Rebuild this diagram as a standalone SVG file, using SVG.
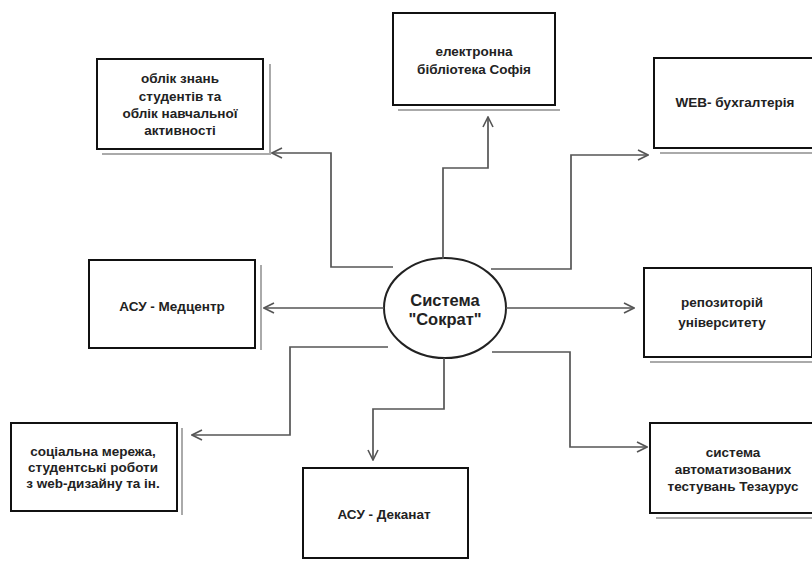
<svg xmlns="http://www.w3.org/2000/svg" width="812" height="563" viewBox="0 0 812 563">
<style>
.box{fill:#fff;stroke:#111;stroke-width:2}
.sh{fill:none;stroke:#aaa;stroke-width:2}
.t{font-family:"Liberation Sans",Arial,sans-serif;font-weight:bold;font-size:13.5px;fill:#222;text-anchor:middle}
.c{fill:none;stroke:#555;stroke-width:1.7}
.big{font-size:16.5px}
</style>
<defs>
<marker id="ar" viewBox="0 0 12 12" refX="11" refY="6" markerWidth="12" markerHeight="12" markerUnits="userSpaceOnUse" orient="auto">
<path d="M1,1 L11,6 L1,11" fill="none" stroke="#555" stroke-width="1.6"/>
</marker>
</defs>
<rect width="812" height="563" fill="#fff"/>
<g id="n-oblik">
<path class="sh" d="M270,64 V154 H102"/>
<rect class="box" x="97" y="59" width="166" height="90"/>
<text class="t" x="180" y="83">облік знань</text>
<text class="t" x="180" y="101">студентів та</text>
<text class="t" x="180" y="118">облік навчальної</text>
<text class="t" x="180" y="135">активності</text>
</g>
<g id="n-biblioteka">
<path class="sh" d="M398,110 H560"/>
<rect class="box" x="393" y="13" width="162" height="92"/>
<text class="t" x="474" y="56">електронна</text>
<text class="t" x="474" y="74">бібліотека Софія</text>
</g>
<g id="n-web">
<path class="sh" d="M660,153 H812"/>
<rect class="box" x="654" y="58" width="160" height="90"/>
<text class="t" x="735" y="107">WEB- бухгалтерія</text>
</g>
<g id="n-medcentr">
<path class="sh" d="M261,265 V350"/>
<rect class="box" x="89" y="260" width="166" height="88"/>
<text class="t" x="172" y="311">АСУ - Медцентр</text>
</g>
<g id="n-sokrat">
<ellipse cx="445" cy="308" rx="61" ry="50" fill="#fff" stroke="#222" stroke-width="2"/>
<text class="t big" x="445" y="306">Система</text>
<text class="t big" x="445" y="325">"Сократ"</text>
</g>
<g id="n-repozytorii">
<path class="sh" d="M650,362 H812"/>
<rect class="box" x="644" y="268" width="168" height="89"/>
<text class="t" x="722" y="307">репозиторій</text>
<text class="t" x="722" y="327">університету</text>
</g>
<g id="n-socialna">
<path class="sh" d="M182,428 V515"/>
<rect class="box" x="11" y="423" width="166" height="88"/>
<text class="t" x="93" y="456">соціальна мережа,</text>
<text class="t" x="93" y="472">студентські роботи</text>
<text class="t" x="93" y="488">з web-дизайну та ін.</text>
</g>
<g id="n-dekanat">
<rect class="box" x="303" y="468" width="165" height="90"/>
<text class="t" x="384" y="519">АСУ - Деканат</text>
</g>
<g id="n-tezaurus">
<path class="sh" d="M656,518 H812"/>
<rect class="box" x="650" y="423" width="164" height="90"/>
<text class="t" x="733" y="457">система</text>
<text class="t" x="733" y="474">автоматизованих</text>
<text class="t" x="733" y="491">тестувань Тезаурус</text>
</g>
<g id="connectors">
<path class="c" marker-end="url(#ar)" d="M393,267 H331 V153 H272"/>
<path class="c" marker-end="url(#ar)" d="M443,259 V168 H488 V117"/>
<path class="c" marker-end="url(#ar)" d="M491,269 H571 V155 H648"/>
<path class="c" marker-end="url(#ar)" d="M384,308 H264"/>
<path class="c" marker-end="url(#ar)" d="M506,308 H634"/>
<path class="c" marker-end="url(#ar)" d="M388,347 H290 V435 H192"/>
<path class="c" marker-end="url(#ar)" d="M444,358 V409 H373 V460"/>
<path class="c" marker-end="url(#ar)" d="M492,352 H570 V447 H647"/>
</g>
</svg>
